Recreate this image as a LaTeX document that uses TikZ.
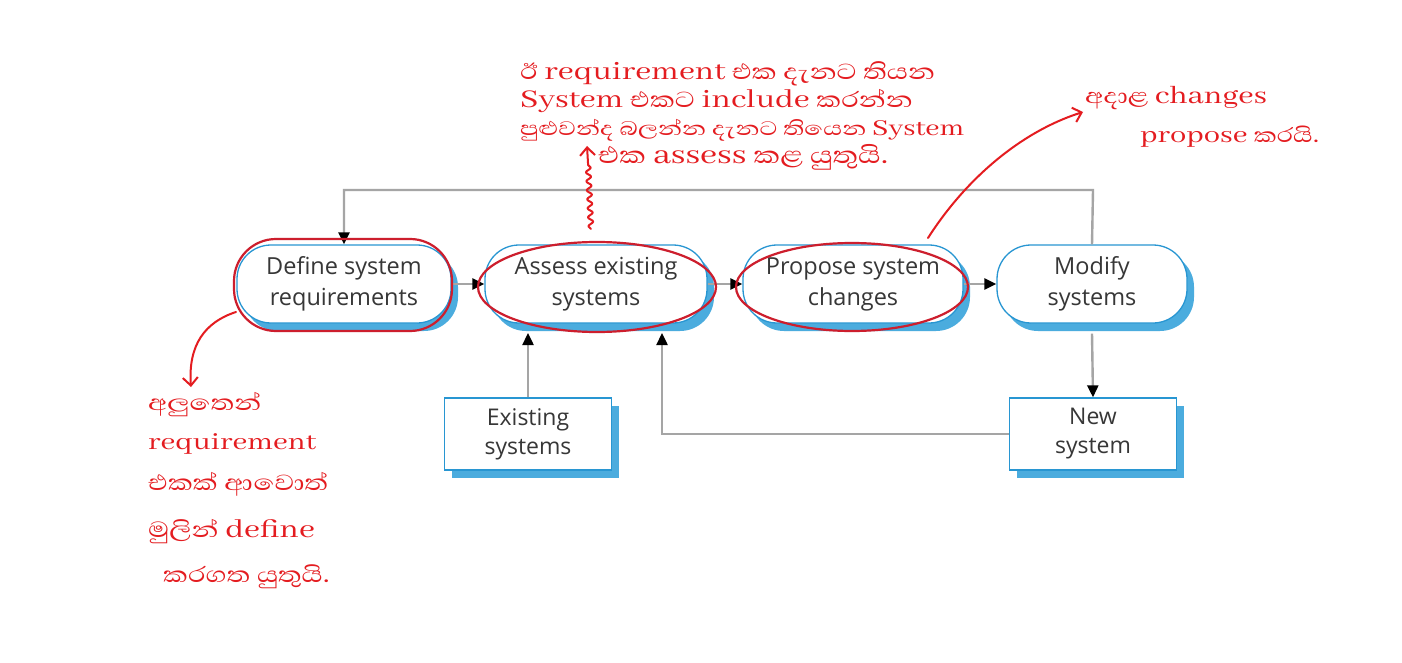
\documentclass[tikz,border=0pt]{standalone}
\usepackage{fontspec}
\setmainfont{Open Sans}
\newfontfamily\boxfont{Open Sans}
\newfontfamily\sinhfont[Script=Sinhala, FakeStretch=1.25]{Abhaya Libre}
\usetikzlibrary{shapes.geometric,arrows.meta,decorations.pathmorphing,shadows,calc}
\definecolor{boxblue}{RGB}{40,150,210}
\definecolor{shblue}{RGB}{75,172,222}
\definecolor{txtgray}{RGB}{55,55,55}
\definecolor{linegray}{RGB}{165,165,165}
\definecolor{penred}{RGB}{228,28,32}
\definecolor{ringred}{RGB}{205,30,45}
\begin{document}
\begin{tikzpicture}[x=1pt,y=-1pt]
\useasboundingbox[fill=white] (0,0) rectangle (1402,663);
\tikzset{
 shad/.style={drop shadow={shadow xshift=7pt, shadow yshift=-8pt, fill=shblue, opacity=1}},
 proc/.style={shad, draw=boxblue, line width=1.3pt, fill=white, rounded corners=34pt,
   minimum height=78pt, align=center, text=txtgray, inner sep=0pt,
   font=\boxfont\fontsize{23.5}{31}\selectfont},
 datab/.style={shad, draw=boxblue, line width=1.3pt, fill=white, minimum width=167pt,
   minimum height=72pt, align=center, text=txtgray, inner sep=0pt,
   font=\boxfont\fontsize{23}{29}\selectfont},
 flow/.style={draw=linegray, line width=2.4pt,
   -{Triangle[length=12pt,width=11pt,color=black]}},
 ring/.style={draw=ringred, line width=2.2pt},
 pen/.style={draw=penred, line width=2pt, line cap=round, line join=round},
 pentip/.style={pen, -{Straight Barb[length=8pt,width=15pt,line width=2pt]}},
 note/.style={text=penred, anchor=base west, inner sep=0pt,
   font=\sinhfont\fontsize{28}{30}\selectfont},
}
% process boxes
\node[proc, minimum width=214pt] (def) at (344,284) {Define system\\requirements};
\node[proc, minimum width=222pt] (ass) at (596,284) {Assess existing\\systems};
\node[proc, minimum width=220pt] (pro) at (853,284) {Propose system\\changes};
\node[proc, minimum width=190pt] (mod) at (1092,284) {Modify\\systems};
% data boxes
\node[datab] (ex) at (528,434) {Existing\\systems};
\node[datab] (new) at (1093,434) {New\\system};
% connectors
\coordinate (topR) at (1093,190);
\coordinate (asb1) at (528,333);
\coordinate (asb2) at (662,333);
\draw[flow] (mod.north) -- (topR) -| (def.north);
\draw[flow] (def.east) -- (ass.west);
\draw[flow] (ass.east) -- (pro.west);
\draw[flow] (pro.east) -- (mod.west);
\draw[flow] (ex.north) -- (asb1);
\draw[flow] (new.west) -| (asb2);
\draw[flow] ([yshift=-10pt]mod.south) -- (new.north);
% red rings
\node[ring, rounded corners=42pt, minimum width=218pt, minimum height=92pt] (ringD) at (343,285) {};
\node[ring, ellipse, minimum width=238pt, minimum height=90pt] (ringA) at (597,287) {};
\node[ring, ellipse, minimum width=232pt, minimum height=88pt] (ringP) at (852,287) {};
% annotation texts
\node[note] (t1) at (520,80) {ඊ requirement එක දැනට තියන};
\node[note] (t2) at (520,108) {System එකට include කරන්න};
\node[note, font=\sinhfont\fontsize{25}{30}\selectfont] (t3) at (520,136) {පුළුවන්ද බලන්න දැනට තියෙන System};
\node[note, font=\sinhfont\fontsize{30}{30}\selectfont] (t4) at (598,164) {එක assess කළ යුතුයි.};
\node[note, font=\sinhfont\fontsize{27}{30}\selectfont] (r1) at (1085,104) {අදාළ changes};
\node[note, font=\sinhfont\fontsize{26}{30}\selectfont] (r2) at (1140,143) {propose කරයි.};
\node[note] (l1) at (148,410) {අලුතෙන්};
\node[note, font=\sinhfont\fontsize{26}{30}\selectfont] (l2) at (148,449) {requirement};
\node[note] (l3) at (148,490) {එකක් ආවොත්};
\node[note] (l4) at (148,537) {මුලින් define};
\node[note] (l5) at (163,582) {කරගත යුතුයි.};
% annotation arrows
\coordinate (wA) at (591,229);
\coordinate (wB) at (588,163);
\coordinate (wC) at (587,146);
\draw[pen, decorate, decoration={snake, amplitude=2.5pt, segment length=9pt}] (wA) -- (wB);
\draw[pentip] (wB) -- (wC);
\coordinate (pA) at (928,238);
\coordinate (pB) at (1083,112);
\draw[pentip] (pA) .. controls (965,180) and (1020,132) .. (pB);
\coordinate (dA) at (236,312);
\coordinate (dB) at (191,387);
\draw[pentip] (dA) .. controls (205,322) and (188,345) .. (dB);
\end{tikzpicture}
\end{document}
